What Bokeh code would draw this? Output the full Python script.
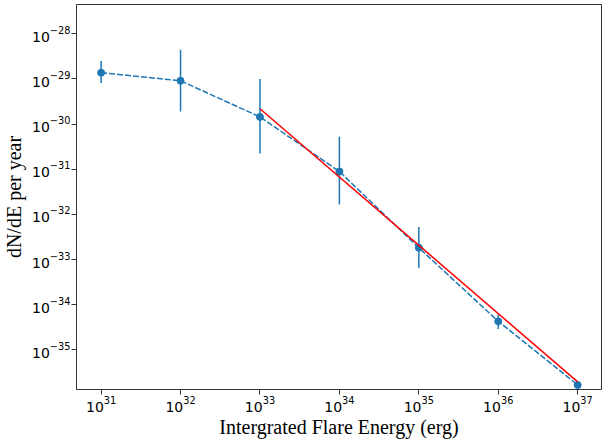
from bokeh.plotting import figure
from bokeh.models import FixedTicker, LogTickFormatter, Range1d
from bokeh.embed import file_html
from bokeh.resources import INLINE

# Data
energy = [1e31, 1e32, 1e33, 1e34, 1e35, 1e36, 1e37]
log_rate = [-28.86, -29.04, -29.84, -31.05, -32.74, -34.37, -35.78]
log_err_hi = [-28.60, -28.35, -29.00, -30.28, -32.28, -34.22, -35.78]
log_err_lo = [-29.09, -29.72, -30.65, -31.78, -33.19, -34.54, -35.78]

fit_energy = [1e33, 1e37]
log_fit = [-29.66, -35.71]

x_ticks = [1e31, 1e32, 1e33, 1e34, 1e35, 1e36, 1e37]
y_ticks = [1e-28, 1e-29, 1e-30, 1e-31, 1e-32, 1e-33, 1e-34, 1e-35]

x_title = "Intergrated Flare Energy (erg)"
y_title = "dN/dE per year"

rate = [10 ** v for v in log_rate]
err_hi = [10 ** v for v in log_err_hi]
err_lo = [10 ** v for v in log_err_lo]
fit = [10 ** v for v in log_fit]

BLUE = "#1f77b4"

p = figure(
    width=609, height=442,
    x_axis_type="log", y_axis_type="log",
    x_range=Range1d(10 ** 30.69, 10 ** 37.3),
    y_range=Range1d(10 ** -35.88, 10 ** -27.35),
    output_backend="svg", toolbar_location=None,
    min_border_left=72, min_border_right=8, min_border_top=4, min_border_bottom=53,
)
p.xgrid.visible = False
p.ygrid.visible = False
p.outline_line_color = "#333333"
p.outline_line_width = 1
p.outline_line_alpha = 1

# error bars
p.segment(x0=energy, y0=err_lo, x1=energy, y1=err_hi, line_color=BLUE, line_width=1.5)
# dashed data line
p.line(energy, rate, line_color=BLUE, line_width=1.5, line_dash="6 2")
p.scatter(energy, rate, size=7, fill_color=BLUE, line_color=BLUE)
# fit line
p.line(fit_energy, fit, line_color="red", line_width=1.5)

for ax, ticks in ((p.xaxis[0], x_ticks), (p.yaxis[0], y_ticks)):
    ax.ticker = FixedTicker(ticks=ticks, minor_ticks=[])
    ax.formatter = LogTickFormatter()
    ax.axis_line_color = None
    ax.major_tick_in = 0
    ax.major_tick_out = 5
    ax.major_tick_line_color = "#333333"
    ax.minor_tick_line_color = None
    ax.major_label_text_font = "DejaVu Sans"
    ax.major_label_text_font_size = "14px"
    ax.major_label_text_color = "black"
    ax.axis_label_text_font = "Liberation Serif"
    ax.axis_label_text_font_size = "20px"
    ax.axis_label_text_font_style = "normal"
    ax.axis_label_text_color = "black"
    ax.major_label_standoff = 1

p.yaxis.axis_label_standoff = 4
p.xaxis.axis_label_standoff = 1
p.xaxis.axis_label = x_title
p.yaxis.axis_label = y_title

open("out.html", "w").write(file_html(p, INLINE))
